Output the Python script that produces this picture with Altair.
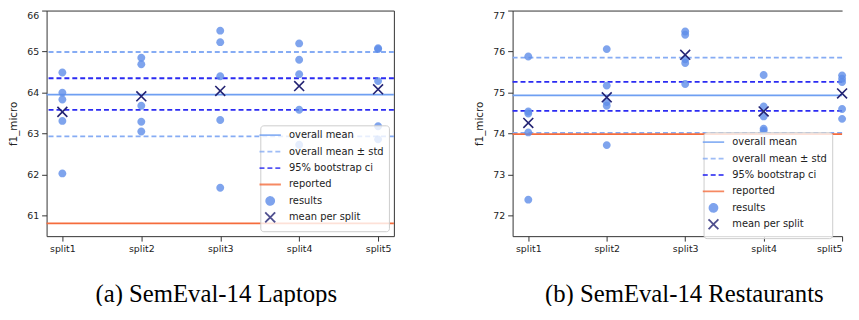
import json
import altair as alt
import pandas as pd

# ---------------- data ----------------
splits = ["split1", "split2", "split3", "split4", "split5"]
series = ["overall mean", "overall mean \u00b1 std", "95% bootstrap ci",
          "reported", "results", "mean per split"]

# SemEval-14 Laptops
lap_results = [
    [64.49, 64.00, 63.83, 63.31, 62.03],
    [64.85, 64.69, 63.68, 63.29, 63.05],
    [65.51, 65.23, 64.40, 63.33, 61.68],
    [65.20, 64.80, 64.45, 63.58, 62.73],
    [65.08, 65.06, 64.28, 63.18, 62.86],
]
lap_split_means = [63.53, 63.91, 64.04, 64.16, 64.08]
lap_mean = 63.95
lap_std_band = [62.93, 64.99]
lap_ci = [63.58, 64.35]
lap_reported = 60.81

# SemEval-14 Restaurants
res_results = [
    [75.88, 74.54, 74.49, 74.03, 72.39],
    [76.06, 75.17, 74.77, 74.68, 73.72],
    [76.49, 76.41, 75.81, 75.72, 75.21],
    [75.43, 74.66, 74.42, 74.12, 74.07],
    [75.42, 75.34, 75.26, 74.60, 74.36],
]
res_split_means = [74.26, 74.885, 75.92, 74.54, 74.98]
res_mean = 74.93
res_std_band = [74.02, 75.85]
res_ci = [74.556, 75.263]
res_reported = 73.99

# ---------------- styles ----------------
colors = ["#6f9ff2", "#86acf4", "#2b2bf2", "#f56c3c", "#5f8de9", "#232373"]
dashes = [[1, 0], [5, 3], [5, 3], [1, 0], [1, 0], [1, 0]]
EXT = "M0,-1.3M0,1.3"
LINE = "M-2.7,0H2.7" + EXT
CIRCLE = "M1,0A1,1,0,1,1,-1,0A1,1,0,1,1,1,0Z" + EXT
XPATH = "M-1.25,-1.25L1.25,1.25M-1.25,1.25L1.25,-1.25" + EXT
shapes = [LINE, LINE, LINE, LINE, CIRCLE, XPATH]
label_expr = json.dumps(splits).replace('"', "'") + "[datum.value]"


def make_legend(pos):
    common = dict(
        title=None,
        fillColor="rgba(255,255,255,0.8)", strokeColor="#cccccc",
        cornerRadius=3, padding=5,
        labelFont="DejaVu Sans", labelFontSize=10, labelColor="#222222",
        symbolSize=64, symbolStrokeWidth=1.8, labelOffset=14, rowPadding=-1.4,
        symbolFillColor="transparent", symbolStrokeColor="transparent",
        zindex=1,
    )
    if pos is None:
        return alt.Legend(orient="bottom-right", offset=5, **common)
    return alt.Legend(orient="none", legendX=pos[0], legendY=pos[1], **common)


def panel(results, split_means, mean, std_band, ci, reported,
          ydom, yvals, xdom, width, caption, dx, right_border, leg_pos):
    pts = pd.DataFrame([{"x": i, "value": v, "series": "results"}
                        for i, vals in enumerate(results) for v in vals])
    mns = pd.DataFrame({"x": list(range(len(splits))), "value": split_means,
                        "series": "mean per split"})
    lines = pd.DataFrame({
        "value": [mean, std_band[0], std_band[1], ci[0], ci[1], reported],
        "series": [series[0], series[1], series[1], series[2], series[2], series[3]],
    })
    leg = make_legend(leg_pos)
    color = alt.Color("series:N", scale=alt.Scale(domain=series, range=colors), legend=leg)
    shape = alt.Shape("series:N", scale=alt.Scale(domain=series, range=shapes), legend=leg)
    dash = alt.StrokeDash("series:N", scale=alt.Scale(domain=series, range=dashes), legend=leg)
    xscale = alt.Scale(domain=xdom, nice=False, zero=False)
    yscale = alt.Scale(domain=ydom, nice=False, zero=False)

    rules = alt.Chart(lines).mark_rule(strokeWidth=1.8).encode(
        y=alt.Y("value:Q", scale=yscale, axis=None),
        color=color, strokeDash=dash,
    )
    points = alt.Chart(pts).mark_point(filled=True, size=64, opacity=0.8).encode(
        x=alt.X("x:Q", scale=xscale, axis=alt.Axis(
            values=list(range(len(splits))), labelExpr=label_expr, title=None,
            grid=False, orient="bottom", labelFlush=True)),
        y=alt.Y("value:Q", scale=yscale, axis=alt.Axis(
            values=yvals, format="d", title="f1_micro", grid=False,
            orient="left", titlePadding=8,
            labelBaseline={"condition": {"test": f"datum.value == {yvals[-1]}",
                                         "value": "top"},
                           "value": "middle"})),
        color=color, shape=shape,
    )
    means = alt.Chart(mns).mark_point(filled=True, size=64, opacity=1,
                                      stroke="#232373", strokeWidth=1.6).encode(
        x=alt.X("x:Q", scale=xscale, axis=alt.Axis(
            orient="top", labels=False, ticks=False, title=None, grid=False)),
        y=alt.Y("value:Q", scale=yscale, axis=alt.Axis(
            orient="right", labels=False, ticks=False, title=None, grid=False)
            if right_border else None),
        color=color, shape=shape,
    )
    return alt.layer(rules, points, means).resolve_axis(
        x="independent", y="independent"
    ).properties(
        width=width, height=228,
        title=alt.TitleParams(
            text=caption, orient="bottom", anchor="middle", frame="group",
            font="Liberation Serif", fontSize=25, fontWeight="normal",
            color="#000000", offset=29, dx=dx),
    )


left = panel(lap_results, lap_split_means, lap_mean, lap_std_band, lap_ci,
             lap_reported, [60.5, 66], [61, 62, 63, 64, 65, 66], [-0.2, 4.2],
             351, "(a) SemEval-14 Laptops", -4, True, None)
right = panel(res_results, res_split_means, res_mean, res_std_band, res_ci,
              res_reported, [71.5, 77], [72, 73, 74, 75, 76, 77], [-0.2, 4.0],
              333, "(b) SemEval-14 Restaurants", 7, False, (193, 123))

chart = alt.hconcat(left, right, spacing=80).resolve_legend(
    color="independent", shape="independent", strokeDash="independent"
).properties(
    padding={"left": 0, "top": 0, "right": 0, "bottom": -3}
).configure_view(stroke=None).configure_axis(
    labelFont="DejaVu Sans", labelFontSize=9.5, labelColor="#222222",
    titleFont="DejaVu Sans", titleFontSize=10.5, titleFontWeight="normal",
    titleColor="#222222", domainColor="#333333", domainWidth=1,
    tickColor="#333333", tickSize=5, labelPadding=3,
)

chart.save("out.html", embed_options={"renderer": "svg", "actions": False})
